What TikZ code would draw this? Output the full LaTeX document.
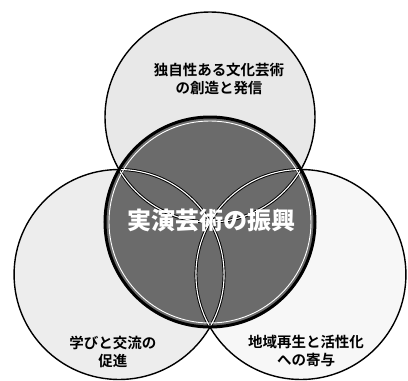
\documentclass[tikz,border=0pt]{standalone}
\usepackage{fontspec}
\newfontfamily\jpf{Noto Sans CJK JP Bold}
\newfontfamily\jpb{Noto Sans CJK JP Black}
\begin{document}
\begin{tikzpicture}[x=1pt,y=-1pt,
  outer/.style={draw=black,line width=1.4pt},
  lensouter/.style={draw=black,line width=3pt},
  lensinner/.style={draw=white,line width=1.1pt},
  lbl/.style={align=center,inner sep=0pt,font=\jpf\fontsize{14.5}{18.5}\selectfont},
  title/.style={align=center,inner sep=0pt,text=white,font=\jpb\fontsize{24}{26}\selectfont}]
\useasboundingbox (0,0) rectangle (408,381);
\clip (0,0) rectangle (408,381);
\coordinate (C) at (210,222);
\coordinate (T) at (210,117);
\coordinate (L) at (119.07,274.5);
\coordinate (R) at (300.93,274.5);
% outer circles
\fill[black!9] (T) circle (105);
\fill[black!7] (L) circle (105);
\fill[black!3] (R) circle (105);
\draw[outer] (T) circle (105);
\draw[outer] (L) circle (105);
\draw[outer] (R) circle (105);
% central circle
\fill[black!58] (C) circle (105);
\begin{scope}
  \clip (C) circle (105);
  \draw[lensouter] (T) circle (105) (L) circle (105) (R) circle (105);
  \draw[lensinner] (T) circle (105) (L) circle (105) (R) circle (105);
  \draw[white,line width=0.9pt] (C) circle (101);
\end{scope}
\draw[black,line width=3pt] (C) circle (105);
% labels
\node[lbl] (top) at (219,79) {独自性ある文化芸術\\の創造と発信};
\node[title] (mid) at (212,220) {実演芸術の振興};
\node[lbl] (bl) at (113,352) {学びと交流の\\促進};
\node[lbl] (br) at (306,351) {地域再生と活性化\\への寄与};
\end{tikzpicture}
\end{document}
